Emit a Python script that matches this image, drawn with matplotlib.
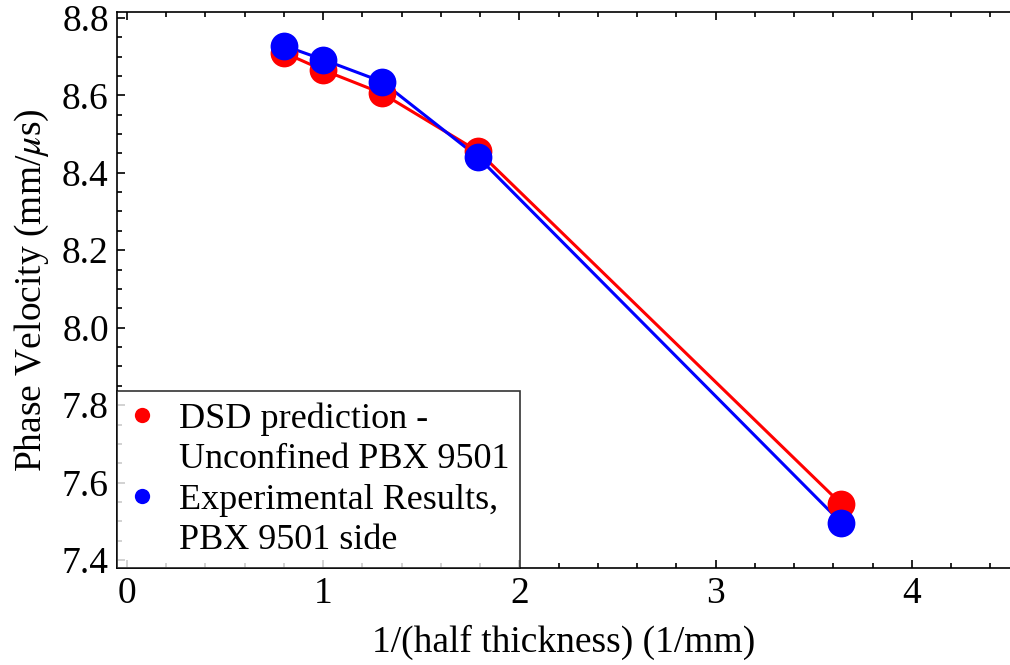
import numpy as np
import matplotlib.pyplot as plt
from matplotlib.lines import Line2D
from matplotlib.ticker import MultipleLocator

plt.rcParams["font.family"] = "Liberation Serif"
plt.rcParams["mathtext.fontset"] = "stix"

# inverse half thickness (1/mm)
inv_half_thickness = [0.80, 1.00, 1.30, 1.79, 3.64]

# phase velocity (mm/us)
dsd_velocity = [8.710, 8.665, 8.605, 8.455, 7.545]
exp_velocity = [8.728, 8.692, 8.635, 8.440, 7.497]

dsd_label = ["DSD prediction -", "Unconfined PBX 9501"]
exp_label = ["Experimental Results,", "PBX 9501 side"]

fig = plt.figure(figsize=(10.1, 6.65), dpi=100)
ax = fig.add_axes([0.116, 0.146, 0.884, 0.836])

x = np.asarray(inv_half_thickness)

# connecting lines
ax.plot(x, dsd_velocity, color="#ff0000", lw=2.2, zorder=2)
ax.plot(x, exp_velocity, color="#0000ff", lw=2.2, zorder=3)

# points
ax.plot(x, dsd_velocity, "o", color="#ff0000", ms=20, mew=0, zorder=4)
ax.plot(x, exp_velocity, "o", color="#0000ff", ms=20, mew=0, zorder=5)

ax.set_xlim(-0.05, 4.5)
ax.set_ylim(7.38, 8.815)

ax.xaxis.set_major_locator(MultipleLocator(1))
ax.xaxis.set_minor_locator(MultipleLocator(0.2))
ax.yaxis.set_major_locator(MultipleLocator(0.2))
ax.yaxis.set_minor_locator(MultipleLocator(0.05))
ax.yaxis.set_major_formatter(plt.FormatStrFormatter("%.1f"))

ax.tick_params(which="both", direction="in", top=True, right=False,
               labelsize=27, width=1.2)
ax.tick_params(which="major", length=6, pad=6)
ax.tick_params(which="minor", length=3.5)
for sp in ax.spines.values():
    sp.set_linewidth(1.2)
ax.spines["right"].set_visible(False)

ax.set_xlabel("1/(half thickness) (1/mm)", fontsize=27, labelpad=10)
ax.set_ylabel(r"Phase Velocity (mm/$\mu$s)", fontsize=27, labelpad=8)

# legend: dot sits next to the first line of each two-line entry
red_dot = Line2D([], [], ls="none", marker="o", ms=11, mew=0, color="#ff0000")
blue_dot = Line2D([], [], ls="none", marker="o", ms=11, mew=0, color="#0000ff")
blank = Line2D([], [], ls="none", marker="none")
handles = [red_dot, blank, blue_dot, blank]
labels = [dsd_label[0], dsd_label[1], exp_label[0], exp_label[1]]

leg = ax.legend(handles, labels, loc="lower left", fontsize=26,
                frameon=True, fancybox=False, edgecolor="black",
                borderaxespad=0.0, handletextpad=0.6, handlelength=0.8,
                borderpad=0.3, labelspacing=0.2)
leg.get_frame().set_linewidth(1.2)

fig.savefig("out.png", dpi=100)
